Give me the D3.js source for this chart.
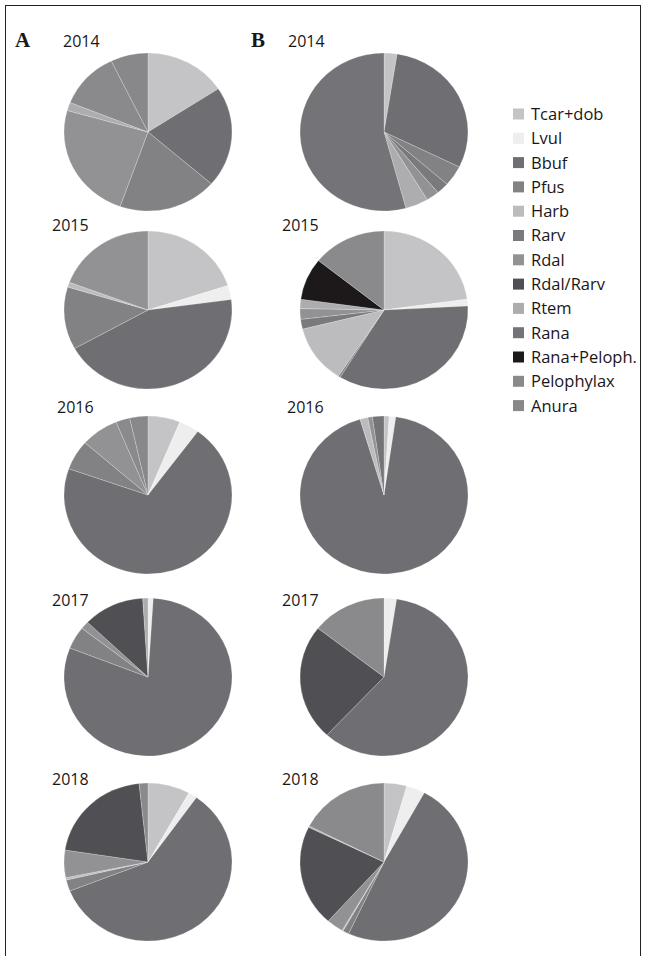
<!DOCTYPE html>
<html>
<head>
<meta charset="utf-8">
<script src="https://cdn.jsdelivr.net/npm/d3@7/dist/d3.min.js"></script>
<style>
  html, body { margin: 0; padding: 0; background: #fff; }
  svg { display: block; }
</style>
</head>
<body>
<svg id="chart" width="645" height="956"></svg>
<script>
// Taxa, in the order the slices run clockwise from 12 o'clock
const categories = ["Tcar+dob", "Lvul", "Bbuf", "Pfus", "Harb", "Rarv", "Rdal",
  "Rdal/Rarv", "Rtem", "Rana", "Rana+Peloph.", "Pelophylax", "Anura"];
const years = ["2014", "2015", "2016", "2017", "2018"];

// Panel A: percentage share of each taxon per year
const panelA2014 = [15.8, 0, 20.6, 19.0, 0, 0, 24.0, 0, 1.7, 0, 0, 11.7, 7.2];
const panelA2015 = [20.0, 2.9, 44.0, 12.8, 1.0, 0, 19.3, 0, 0, 0, 0, 0, 0];
const panelA2016 = [6.2, 3.9, 70.3, 6.1, 0, 0, 7.3, 0, 0, 0, 0, 2.7, 3.5];
const panelA2017 = [0, 1.0, 79.9, 4.6, 0, 0, 1.6, 11.8, 1.0, 0, 0, 0, 0];
const panelA2018 = [8.1, 1.7, 59.3, 2.3, 0.5, 0, 5.6, 20.9, 0, 0, 0, 1.7, 0];

// Panel B: percentage share of each taxon per year
const panelB2014 = [2.5, 0, 29.8, 4.2, 0, 2.4, 2.5, 0, 4.4, 54.2, 0, 0, 0];
const panelB2015 = [22.9, 1.4, 34.7, 0.4, 12.0, 2.0, 2.2, 0, 1.9, 0, 8.6, 14.3, 0];
const panelB2016 = [1.0, 1.25, 93.1, 0, 1.5, 0, 0.9, 0, 0, 2.2, 0, 0, 0];
const panelB2017 = [0, 2.4, 59.5, 0, 0, 0, 0, 23.7, 0, 0, 0, 14.4, 0];
const panelB2018 = [4.4, 3.6, 49.1, 1.2, 0.2, 0, 3.25, 20.75, 0.3, 0, 0, 17.5, 0];

const panels = [
  { name: "A", series: [panelA2014, panelA2015, panelA2016, panelA2017, panelA2018] },
  { name: "B", series: [panelB2014, panelB2015, panelB2016, panelB2017, panelB2018] }
];

// Grey ramp used for the taxa
const palette = ["#c4c4c6", "#eeeeef", "#6f6f73", "#828285", "#bcbcbe", "#7a7a7e",
  "#929295", "#505054", "#adadaf", "#747478", "#1d191a", "#8a8a8d", "#88888b"];

const color = d3.scaleOrdinal().domain(categories).range(palette);

// ---- layout ----
const colX = [148, 384];
const rowY = [132, 310, 495, 677, 862];
const rx = 84, ry = 79;
const labelX = [[63, 52, 57, 52, 52], [288, 282, 287, 282, 282]];
const labelY = [47, 231, 413, 606, 785];
const panelLabelX = [15, 251];

const svg = d3.select("#chart");

// outer frame
svg.append("rect")
  .attr("x", 5.5).attr("y", 5.5)
  .attr("width", 635).attr("height", 970)
  .attr("fill", "none").attr("stroke", "#222").attr("stroke-width", 1);

const pie = d3.pie().sort(null).value(d => d.value);
const arc = d3.arc().innerRadius(0).outerRadius(rx);

panels.forEach((panel, pi) => {
  svg.append("text")
    .attr("x", panelLabelX[pi]).attr("y", 47)
    .attr("font-family", "'Liberation Serif', 'Times New Roman', serif")
    .attr("font-weight", "bold").attr("font-size", 21)
    .attr("fill", "#1a1718")
    .text(panel.name);

  panel.series.forEach((vals, yi) => {
    svg.append("text")
      .attr("x", labelX[pi][yi]).attr("y", labelY[yi])
      .attr("font-family", "'Open Sans', sans-serif")
      .attr("font-size", 16)
      .attr("fill", "#1a1718")
      .text(years[yi]);

    const data = categories.map((c, i) => ({ cat: c, value: vals[i] }))
      .filter(d => d.value > 0);

    const g = svg.append("g")
      .attr("transform", `translate(${colX[pi]},${rowY[yi]}) scale(1,${ry / rx})`);

    g.selectAll("path")
      .data(pie(data))
      .join("path")
      .attr("d", arc)
      .attr("fill", d => color(d.data.cat))
      .attr("stroke", "#ffffff")
      .attr("stroke-opacity", 0.45)
      .attr("stroke-width", 0.5)
      .attr("stroke-linejoin", "round");
  });
});

// ---- legend ----
const legendX = 513, legendY0 = 114, legendStep = 24.3;
const legend = svg.append("g");
const items = legend.selectAll("g")
  .data(categories)
  .join("g")
  .attr("transform", (d, i) => `translate(${legendX},${legendY0 + i * legendStep})`);

items.append("rect")
  .attr("x", 0).attr("y", -5.5)
  .attr("width", 11).attr("height", 11)
  .attr("fill", d => color(d));

items.append("text")
  .attr("x", 18).attr("y", 0)
  .attr("dy", "0.36em")
  .attr("font-family", "'Open Sans', sans-serif")
  .attr("font-size", 16.5)
  .attr("fill", "#1a1718")
  .text(d => d);
</script>
</body>
</html>
